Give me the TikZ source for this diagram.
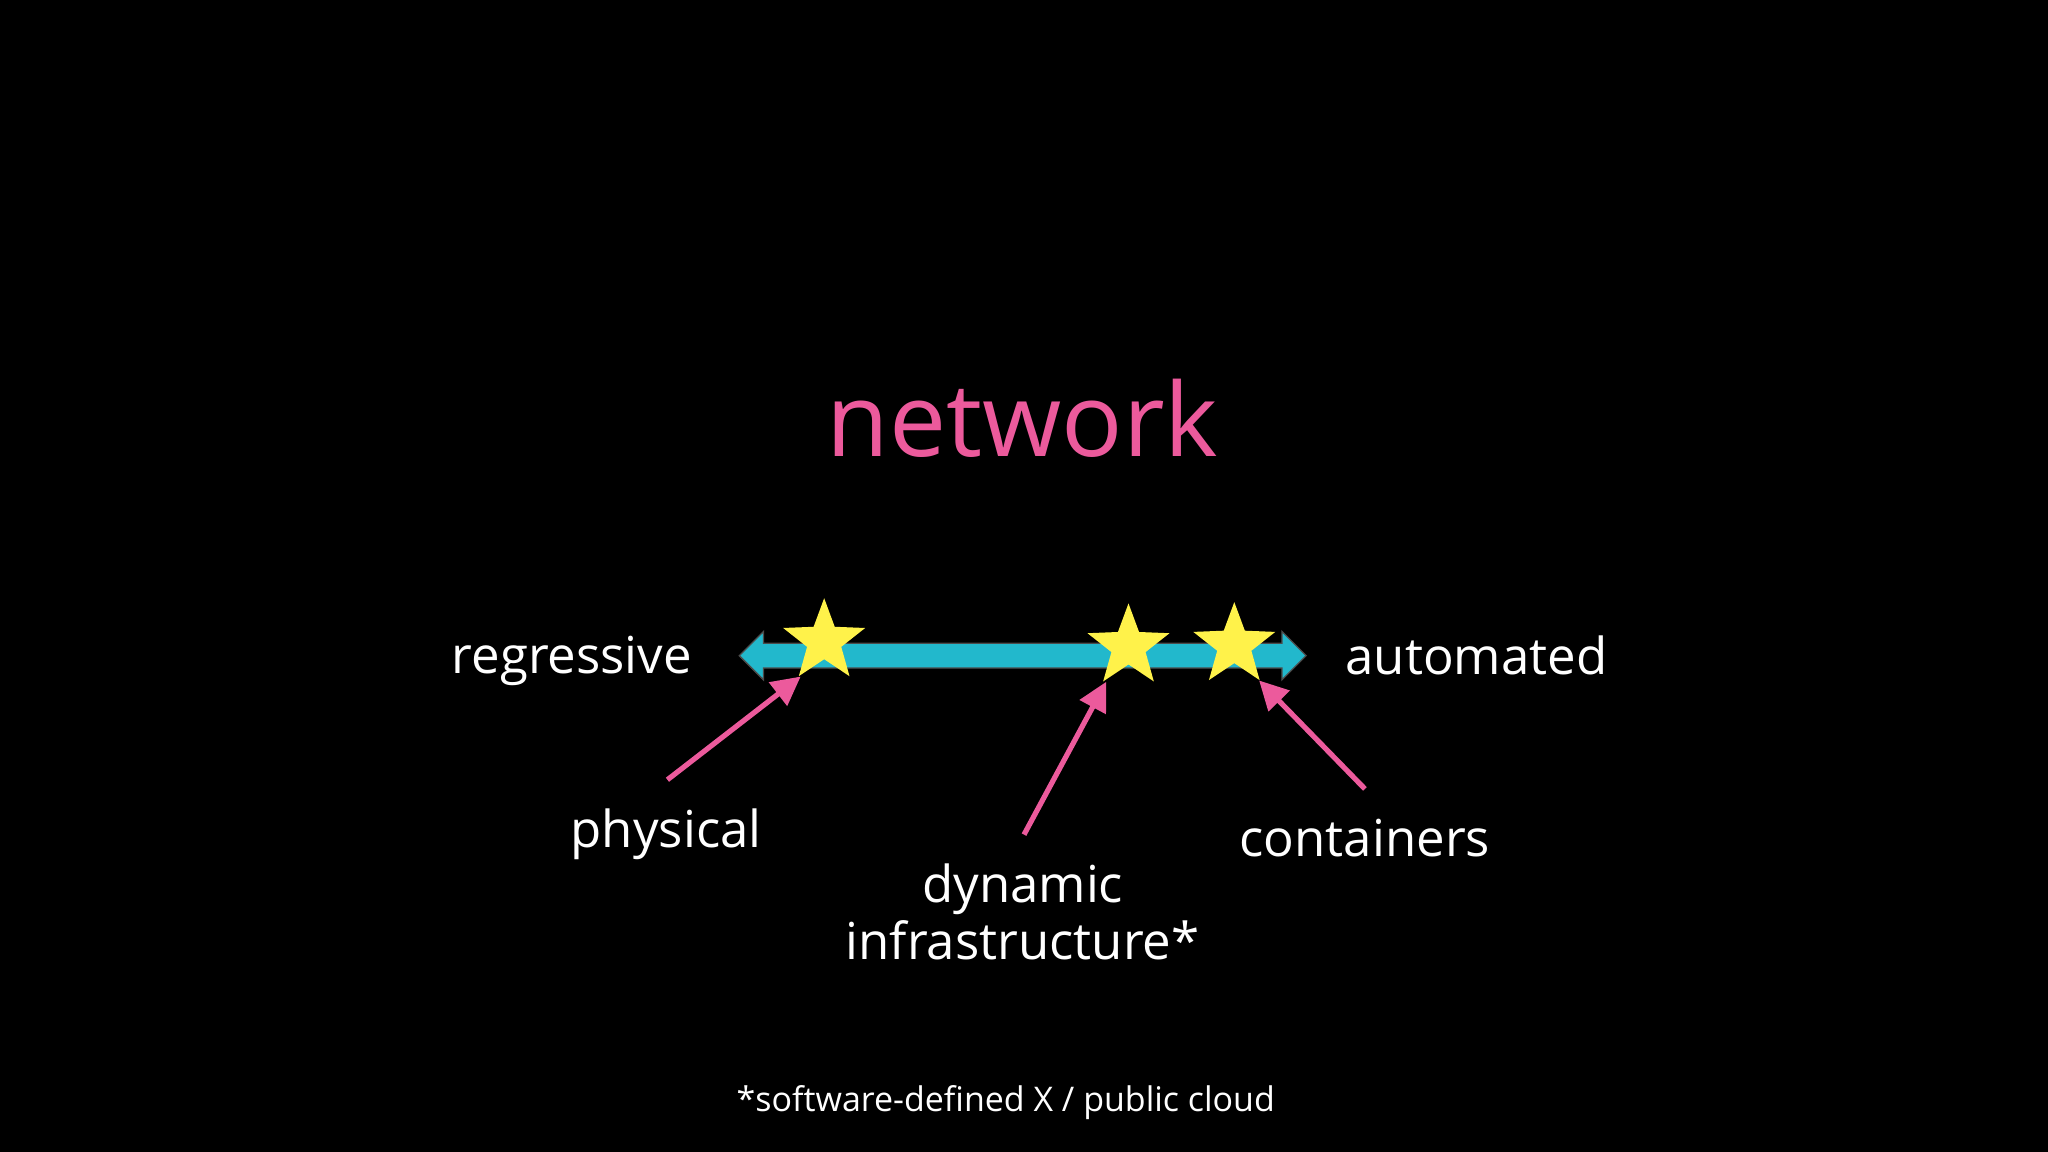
\documentclass[tikz,border=0pt]{standalone}
\usepackage{fontspec}
\setmainfont{Open Sans}
\usetikzlibrary{shapes.geometric,shapes.arrows,arrows.meta}
\definecolor{pk}{HTML}{EC5A9C}
\definecolor{cy}{HTML}{22B8CC}
\definecolor{yl}{HTML}{FFF24A}
\tikzset{
 lbl/.style={text=white,font=\fontsize{39}{44}\selectfont,inner sep=0},
 st/.style={star,star points=5,star point ratio=2.4,fill=yl,minimum size=66,inner sep=0},
 pa/.style={draw=pk,line width=4,-{Triangle[length=22,width=22]}}
}
\begin{document}
\begin{tikzpicture}[x=1pt,y=-1pt]
\fill[black] (0,0) rectangle (1568,882);
\useasboundingbox (0,0) rectangle (1568,882);
\node[text=pk,font=\fontsize{78}{90}\selectfont,inner sep=0] (title) at (783,320) {network};
\node[double arrow,fill=cy,draw=gray!60!black,line width=1,minimum height=434,double arrow head extend=9,inner sep=0,double arrow tip angle=90] (bar) at (783,502) {\rule{0pt}{18pt}};
\node[lbl,anchor=east] (reg) at (530,506) {regressive};
\node[lbl,anchor=west] (aut) at (1030,502) {automated};
\node[st] (s1) at (631,491) {};
\node[st] (s2) at (864,495) {};
\node[st] (s3) at (945,494) {};
\node[lbl] (phy) at (510,639) {physical};
\node[lbl] (con) at (1045,642) {containers};
\node[lbl,align=center] (dyn) at (783,698) {dynamic\\infrastructure*};
\node[text=white,font=\fontsize{26}{30}\selectfont,inner sep=0] (foot) at (770,844) {*software-defined X / public cloud};
\coordinate (p1) at (511,597); \coordinate (q1) at (613,518);
\coordinate (p2) at (784,639); \coordinate (q2) at (847,522);
\coordinate (p3) at (1045,604); \coordinate (q3) at (964,521);
\draw[pa] (p1) -- (q1);
\draw[pa] (p2) -- (q2);
\draw[pa] (p3) -- (q3);
\end{tikzpicture}
\end{document}
